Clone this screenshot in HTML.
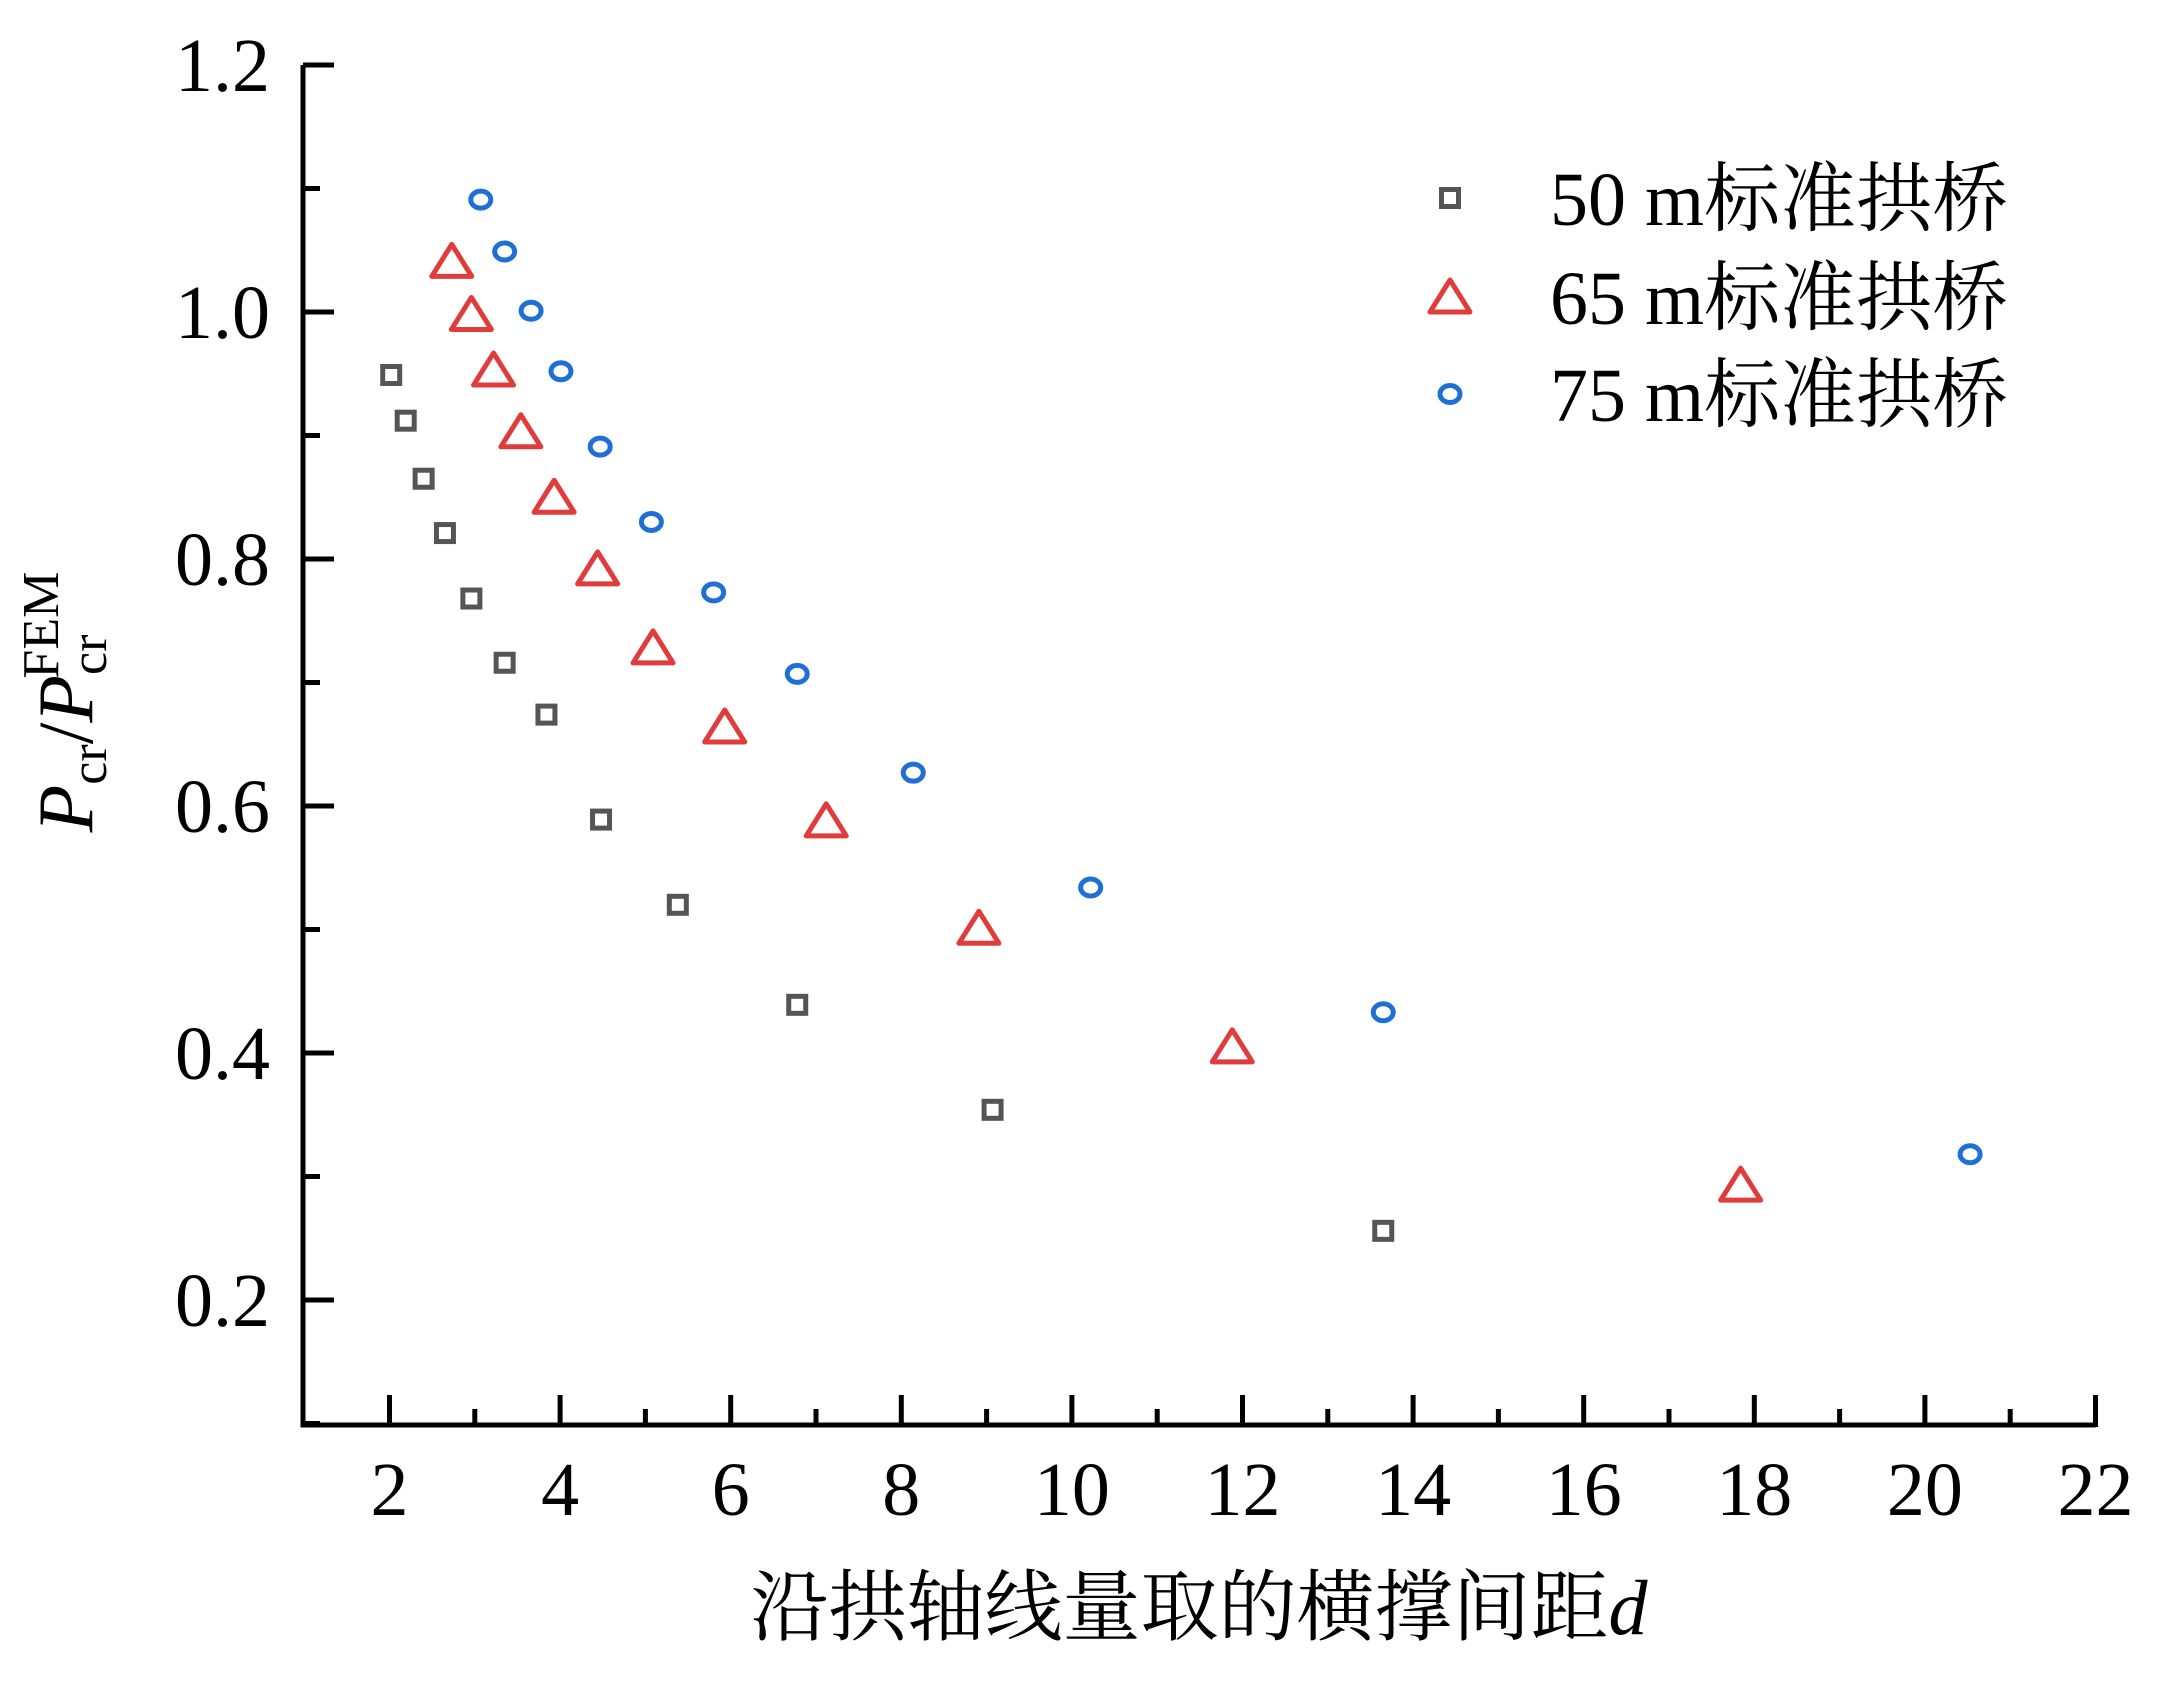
<!DOCTYPE html>
<html><head><meta charset="utf-8">
<style>
html,body{margin:0;padding:0;background:#fff;}
svg{display:block;}
text{font-family:"Liberation Serif","Noto Serif CJK SC",serif;fill:#000;}
</style></head>
<body>
<svg id="chart" width="2172" height="1693" viewBox="0 0 2172 1693" xmlns="http://www.w3.org/2000/svg">
<g id="axes"></g>
<g id="marks"></g>
<g id="legend"></g>
<text x="1199" y="1634" font-size="78" text-anchor="middle">沿拱轴线量取的横撑间距<tspan font-style="italic">d</tspan></text>
<text transform="translate(92,702) rotate(-90)" font-size="78" text-anchor="middle"><tspan font-style="italic">P</tspan><tspan font-size="52" dy="14">cr</tspan><tspan dy="-14">/</tspan><tspan font-style="italic">P</tspan><tspan font-size="52" dy="14">cr</tspan><tspan font-size="52" dx="-44" dy="-48">FEM</tspan></text>
</svg>
<script>
const xTicks = [2,4,6,8,10,12,14,16,18,20,22];
const yTicks = [0.2,0.4,0.6,0.8,1.0,1.2];
const yTickLabels = ["0.2","0.4","0.6","0.8","1.0","1.2"];
const seriesNames = ["50 m标准拱桥","65 m标准拱桥","75 m标准拱桥"];
const d50 = [2.02,2.19,2.40,2.65,2.96,3.35,3.84,4.48,5.38,6.78,9.07,13.65];
const v50 = [0.949,0.912,0.865,0.821,0.768,0.716,0.674,0.589,0.520,0.439,0.354,0.256];
const d65 = [2.73,2.96,3.22,3.54,3.93,4.44,5.09,5.93,7.12,8.91,11.88,17.84];
const v65 = [1.041,0.998,0.953,0.903,0.850,0.792,0.728,0.664,0.588,0.501,0.405,0.293];
const d75 = [3.07,3.35,3.66,4.01,4.47,5.07,5.80,6.78,8.14,10.22,13.65,20.53];
const v75 = [1.091,1.049,1.001,0.952,0.891,0.830,0.773,0.707,0.627,0.534,0.433,0.318];

const NS="http://www.w3.org/2000/svg";
const X0=389.5, XU=85.3;
const Y0=806, YU=1235;
function sx(v){return X0+(v-2)*XU;}
function sy(v){return Y0-(v-0.6)*YU;}
const axL=303, axB=1425, axR=sx(22), axT=sy(1.2);
function mk(tag,attrs,parent){const e=document.createElementNS(NS,tag);for(const k in attrs)e.setAttribute(k,attrs[k]);parent.appendChild(e);return e;}
const axes=document.getElementById('axes');
let e;
e=mk('path',{d:`M${axL},${axT} V${axB} H${axR}`,fill:'none',stroke:'#000','stroke-width':5},axes);


xTicks.forEach(t=>{
  e=mk('line',{x1:sx(t),x2:sx(t),y1:axB+2,y2:axB-30,stroke:'#000','stroke-width':5},axes);
  
  
  if(t<22){
    e=mk('line',{x1:sx(t+1),x2:sx(t+1),y1:axB,y2:axB-16,stroke:'#000','stroke-width':5},axes);
    
    
  }
  e=mk('text',{x:sx(t),y:1515,'font-size':76,'text-anchor':'middle'},axes);
  e.textContent=String(t);
  
  
});
yTicks.forEach((t,i)=>{
  e=mk('line',{x1:axL,x2:axL+31,y1:sy(t),y2:sy(t),stroke:'#000','stroke-width':5},axes);
  
  
  e=mk('line',{x1:axL,x2:axL+17,y1:sy(t-0.1),y2:sy(t-0.1),stroke:'#000','stroke-width':5},axes);
  
  
  e=mk('text',{x:270,y:sy(t)+26,'font-size':76,'text-anchor':'end'},axes);
  e.textContent=yTickLabels[i];
  
  
});
function square(cx,cy,p){return mk('rect',{x:cx-8.5,y:cy-8.5,width:17,height:17,fill:'none',stroke:'#555','stroke-width':5},p);}
function tri(cx,cy,p){return mk('polygon',{points:`${cx},${cy-17} ${cx+20},${cy+15} ${cx-20},${cy+15}`,fill:'none',stroke:'#e03c3c','stroke-width':5,'stroke-linejoin':'round'},p);}
function circ(cx,cy,p){return mk('ellipse',{cx:cx,cy:cy,rx:10,ry:8.5,fill:'none',stroke:'#1f6fd6','stroke-width':5},p);}
const marks=document.getElementById('marks');
d50.forEach((d,i)=>{e=square(sx(d),sy(v50[i]),marks);
  
  });
d65.forEach((d,i)=>{e=tri(sx(d),sy(v65[i]),marks);
  
  });
d75.forEach((d,i)=>{e=circ(sx(d),sy(v75[i]),marks);
  
  });
const legend=document.getElementById('legend');
const legY=[198,297,394];
const makers=[square,tri,circ];
seriesNames.forEach((n,i)=>{
  e=makers[i](1450,legY[i],legend);
  
  
  e=mk('text',{x:1550,y:legY[i]+27,'font-size':76},legend);
  e.textContent=n;
  
  
});
</script>
</body></html>
